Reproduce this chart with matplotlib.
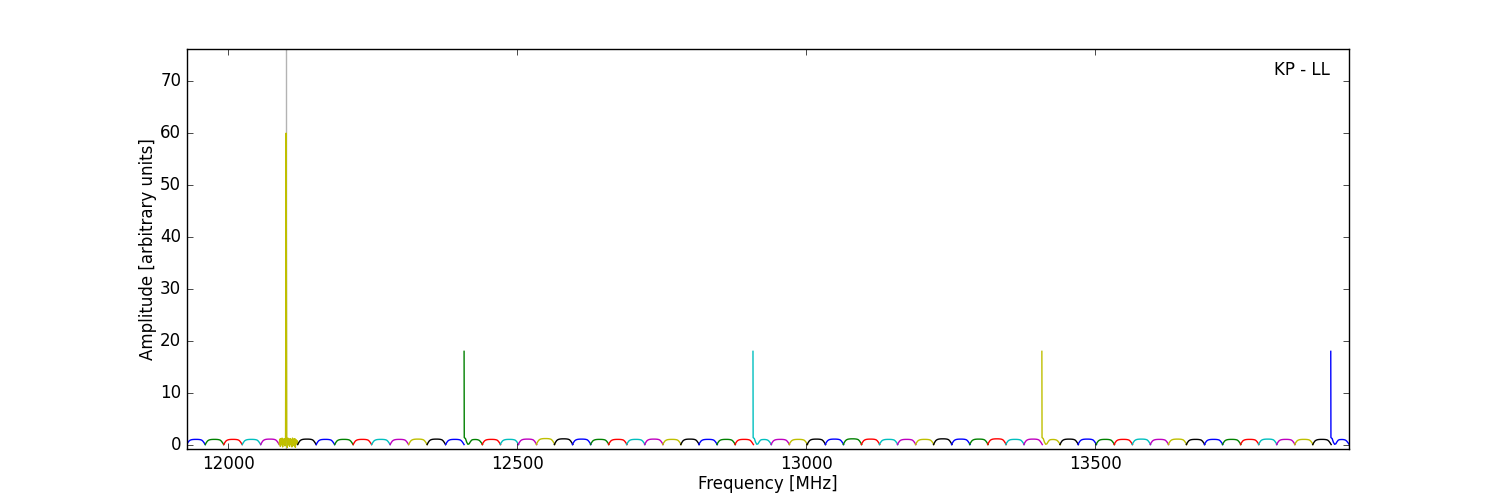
import numpy as np
import matplotlib
matplotlib.use("Agg")
import matplotlib.pyplot as plt

plt.style.use('classic')

# channel layout (MHz): blocks of 32 MHz channels
block_start = [11928, 12408, 12908, 13408, 13908]
block_nchan = [15, 16, 16, 16, 1]
block_step = [32.0, 31.25, 31.25, 31.25, 32.0]
chan_width = 32.0

# typical channel bandpass shape
bandpass = [0.05, 0.45, 0.75, 0.9, 0.98, 1.02, 1.04, 1.05, 1.05,
            1.05, 1.04, 1.02, 0.98, 0.9, 0.7, 0.4, 0.05]

# channels starting with a phase-cal tone
tone_height = 18.0
tone_profile = [1.4, 1.2, 0.5, 0.1, 0.2, 0.6, 0.9, 1.0,
                1.02, 1.03, 1.02, 0.98, 0.9, 0.7, 0.4, 0.05]
tone_chans = [15, 31, 47, 63]

# channel with strong RFI line at 12100 MHz (1 MHz samples)
rfi_chan = 5
rfi_values = [0.2, 1.1, -0.3, 1.2, 0.0, 1.3, -0.4, 1.1, 0.1, 1.2, -0.2, 1.0,
              60.0, 1.2, -0.5, 1.3, 0.0, 1.1, -0.3, 1.2, 0.1, 1.0, -0.4, 1.3,
              0.0, 1.1, -0.2, 1.2, -0.5, 1.0, 0.2, 0.8, 0.1]
rfi_freq = 12100

# per-channel gain
gains = [1.0, 1.0, 1.0, 1.0, 1.05, 1.0, 1.05, 1.0, 1.0, 1.0, 1.0, 1.0, 1.05, 1.05,
         1.0, 1.0, 1.0, 1.0, 1.05, 1.15, 1.1, 1.05, 1.0, 1.0, 1.0, 1.05, 1.0, 1.05,
         1.0, 1.0, 1.0, 1.0, 1.0, 1.0, 1.05, 1.05, 1.1, 1.05, 1.0, 1.0, 1.0, 1.1,
         1.05, 1.05, 1.1, 1.0, 1.05, 1.0, 1.05, 1.05, 1.0, 1.0, 1.05, 1.0, 1.05,
         1.0, 1.0, 1.0, 1.0, 1.05, 1.0, 1.0, 1.0, 1.0]

chan_freqs = []
for s, n, d in zip(block_start, block_nchan, block_step):
    chan_freqs += [s + k * d for k in range(n)]

fig = plt.figure(figsize=(15, 5), dpi=100, facecolor='white')
fig.subplots_adjust(left=0.1245, right=0.8995, bottom=0.102, top=0.902)
ax = fig.add_subplot(111)

ax.axvline(rfi_freq, color='0.7', zorder=1)

for i, f0 in enumerate(chan_freqs):
    if i == rfi_chan:
        y = np.array(rfi_values)
        x = f0 + np.linspace(0, chan_width, len(y))
    elif i in tone_chans:
        # tone sits right at the channel edge
        y = np.concatenate([[tone_height], np.array(tone_profile) * gains[i]])
        x = f0 + np.concatenate([[0.0], np.linspace(0.3, chan_width, len(tone_profile))])
    else:
        y = np.array(bandpass) * gains[i]
        x = f0 + np.linspace(0, chan_width, len(y))
    ax.plot(x, y)

ax.set_xlim(11928, 13940)
ax.set_ylim(-0.8, 76.2)
ax.tick_params(axis='both', pad=4)
ax.set_xlabel('Frequency [MHz]', labelpad=2)
ax.set_ylabel('Amplitude [arbitrary units]', labelpad=2)
ax.text(0.9835, 0.947, 'KP - LL', transform=ax.transAxes, ha='right', va='center')

plt.savefig('out.png', dpi=100, facecolor='white')
